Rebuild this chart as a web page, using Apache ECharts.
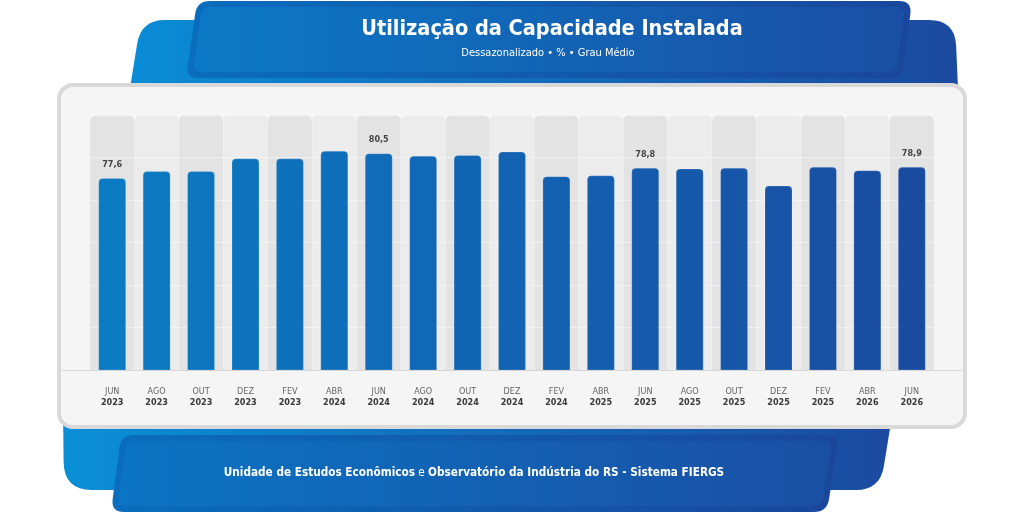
<!DOCTYPE html>
<html>
<head>
<meta charset="utf-8">
<script src="https://cdn.jsdelivr.net/npm/echarts@6/dist/echarts.min.js"></script>
<style>
  html, body { margin: 0; padding: 0; background: #ffffff; }
  #chart { width: 1024px; height: 512px; }
</style>
</head>
<body>
<div id="chart"></div>
<script>
// ------------------ dados ------------------
var months = ['JUN', 'AGO', 'OUT', 'DEZ', 'FEV', 'ABR', 'JUN', 'AGO', 'OUT', 'DEZ',
              'FEV', 'ABR', 'JUN', 'AGO', 'OUT', 'DEZ', 'FEV', 'ABR', 'JUN'];
var years = ['2023', '2023', '2023', '2023', '2023', '2024', '2024', '2024', '2024', '2024',
             '2024', '2025', '2025', '2025', '2025', '2025', '2025', '2026', '2026'];
var values = [77.6, 78.4, 78.4, 79.9, 79.9, 80.8, 80.5, 80.2, 80.3, 80.7,
              77.8, 77.9, 78.8, 78.7, 78.8, 76.7, 78.9, 78.5, 78.9];
var labelIdx = [0, 6, 12, 18];   // barras com rótulo de valor

var Y_MIN = 55, Y_MAX = 85, Y_STEP = 5;

var FONT = '"DejaVu Sans Condensed", "Liberation Sans Narrow", "DejaVu Sans", sans-serif';

var categories = months.map(function (m, i) { return m + '\n' + years[i]; });
var colData = categories.map(function (c, i) {
    return {value: Y_MAX, itemStyle: {color: i % 2 === 0 ? '#e3e3e3' : '#ececec'}};
});

function hGrad(x1, x2, c1, c2) {
    return {type: 'linear', x: x1, y: 0, x2: x2, y2: 0, global: true,
            colorStops: [{offset: 0, color: c1}, {offset: 1, color: c2}]};
}

// polígono com cantos arredondados (r por canto)
function roundPoly(pts, radii) {
    var out = [];
    var n = pts.length;
    for (var i = 0; i < n; i++) {
        var p = pts[i], a = pts[(i - 1 + n) % n], b = pts[(i + 1) % n];
        var r = radii[i];
        if (!r) { out.push(p); continue; }
        var da = Math.hypot(a[0] - p[0], a[1] - p[1]), db = Math.hypot(b[0] - p[0], b[1] - p[1]);
        var p1 = [p[0] + (a[0] - p[0]) * r / da, p[1] + (a[1] - p[1]) * r / da];
        var p2 = [p[0] + (b[0] - p[0]) * r / db, p[1] + (b[1] - p[1]) * r / db];
        for (var k = 0; k <= 8; k++) {
            var t = k / 8, u = 1 - t;
            out.push([u * u * p1[0] + 2 * u * t * p[0] + t * t * p2[0],
                      u * u * p1[1] + 2 * u * t * p[1] + t * t * p2[1]]);
        }
    }
    return out;
}

function shape(pts, radii, fill, z) {
    return {type: 'polygon', z: z, silent: true,
            shape: {points: roundPoly(pts, radii)}, style: {fill: fill}};
}

var myChart = echarts.init(document.getElementById('chart'), null, {renderer: 'canvas'});

var option = {
    backgroundColor: '#ffffff',
    animation: false,
    grid: {left: 90, right: 90, top: 115, bottom: 142},
    xAxis: [{
        type: 'category',
        data: categories,
        axisLine: {show: false},
        axisTick: {show: false},
        axisLabel: {
            interval: 0,
            margin: 16,
            fontFamily: FONT,
            formatter: function (v) {
                var p = v.split('\n');
                return '{m|' + p[0] + '}\n{y|' + p[1] + '}';
            },
            rich: {
                m: {fontSize: 9, color: '#666666', fontFamily: FONT, lineHeight: 11},
                y: {fontSize: 9, color: '#3a3a3a', fontWeight: 'bold', fontFamily: FONT, lineHeight: 11}
            }
        }
    }, {
        type: 'category',
        data: categories,
        show: false
    }],
    yAxis: {
        type: 'value',
        min: Y_MIN,
        max: Y_MAX,
        interval: Y_STEP,
        z: 2,
        axisLabel: {show: false},
        axisLine: {show: false},
        axisTick: {show: false},
        splitLine: {lineStyle: {color: 'rgba(255,255,255,0.45)', width: 1}}
    },
    series: [{
        // colunas de fundo
        name: 'fundo',
        type: 'bar',
        xAxisIndex: 1,
        data: colData,
        barWidth: 44,
        silent: true,
        z: 1,
        itemStyle: {borderRadius: [6, 6, 0, 0]}
    }, {
        name: 'Utilização',
        type: 'bar',
        data: values,
        barWidth: 28,
        z: 3,
        itemStyle: {
            color: hGrad(90, 934, '#0a7cc4', '#1a4a9f'),
            borderRadius: [4, 4, 0, 0],
            borderColor: 'rgba(255,255,255,0.18)',
            borderWidth: 1
        },
        label: {
            show: true,
            position: 'top',
            distance: 9,
            fontFamily: FONT,
            fontSize: 9,
            fontWeight: 'bold',
            color: '#444444',
            formatter: function (p) {
                return labelIdx.indexOf(p.dataIndex) >= 0 ? p.value.toFixed(1).replace('.', ',') : '';
            }
        }
    }],
    graphic: [
        // faixa traseira superior
        shape([[141, 20], [955, 20], [958, 88], [130, 88]], [24, 26, 0, 0],
              hGrad(130, 958, '#0a8cd6', '#1b4a9f'), -10),
        // faixa frontal do título
        shape([[197, 1], [912, 1], [902, 78], [186, 78]], [13, 13, 12, 12],
              hGrad(186, 912, '#0a6dbd', '#1a479b'), -9),
        shape([[202, 7], [905, 7], [896, 72], [193, 72]], [10, 10, 9, 9],
              hGrad(192, 905, '#0b79c7', '#1a4fa3'), -8),
        // faixa traseira inferior
        shape([[63, 410], [893, 410], [880, 490], [64, 490]], [0, 0, 24, 28],
              hGrad(63, 893, '#0a8fd7', '#1b4aa0'), -10),
        // faixa frontal do rodapé
        shape([[121, 435], [839, 435], [827, 512], [111, 512]], [13, 13, 13, 13],
              hGrad(111, 839, '#0a6dbd', '#1a479b'), -9),
        shape([[127, 441], [832, 441], [822, 506], [117, 506]], [10, 10, 10, 10],
              hGrad(117, 832, '#0b74c4', '#1a4fa3'), -8),
        // cartão do gráfico
        {type: 'rect', z: -5, silent: true,
         shape: {x: 59, y: 85, width: 906, height: 342, r: 14},
         style: {fill: '#f5f5f5', stroke: '#d9d9d9', lineWidth: 4}},
        // linha de base
        {type: 'line', z: 5, silent: true,
         shape: {x1: 62, y1: 370.5, x2: 962, y2: 370.5},
         style: {stroke: '#d6d6d6', lineWidth: 1}},
        // título
        {type: 'text', z: 10, silent: true, x: 552, y: 29,
         style: {text: 'Utilização da Capacidade Instalada', fill: '#ffffff', font: 'bold 21.5px ' + FONT,
                 textAlign: 'center', textVerticalAlign: 'middle'}},
        {type: 'text', z: 10, silent: true, x: 548, y: 53,
         style: {text: 'Dessazonalizado • % • Grau Médio', fill: '#ffffff', font: '11px ' + FONT,
                 textAlign: 'center', textVerticalAlign: 'middle'}},
        // rodapé
        {type: 'text', z: 10, silent: true, x: 474, y: 473,
         style: {
             text: '{b|Unidade de Estudos Econômicos} {n|e} {b|Observatório da Indústria do RS - Sistema FIERGS}',
             textAlign: 'center', textVerticalAlign: 'middle',
             rich: {
                 b: {fontFamily: FONT, fontSize: 11.7, fontWeight: 'bold', fill: '#ffffff'},
                 n: {fontFamily: FONT, fontSize: 11.7, fill: '#ffffff'}
             }
         }}
    ]
};
myChart.setOption(option);
</script>
</body>
</html>
